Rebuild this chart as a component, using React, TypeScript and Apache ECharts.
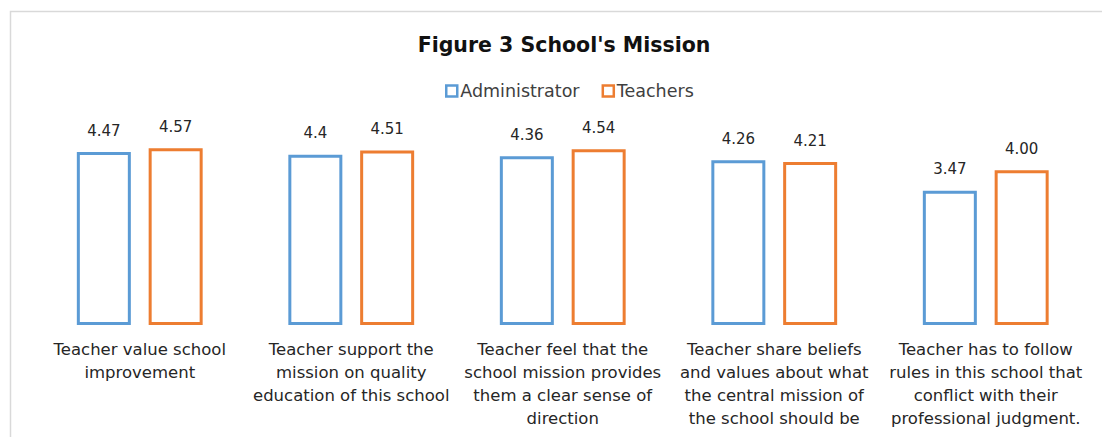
import React, { useEffect, useRef } from "react";
import * as echarts from "echarts";

const categories = [
  "Teacher value school\nimprovement",
  "Teacher support the\nmission on quality\neducation of this school",
  "Teacher feel that the\nschool mission provides\nthem a clear sense of\ndirection",
  "Teacher share beliefs\nand values about what\nthe central mission of\nthe school should be",
  "Teacher has to follow\nrules in this school that\nconflict with their\nprofessional judgment.",
];
const administrator = [4.47, 4.4, 4.36, 4.26, 3.47];
const administratorLabels = ["4.47", "4.4", "4.36", "4.26", "3.47"];
const teachers = [4.57, 4.51, 4.54, 4.21, 4.0];
const teachersLabels = ["4.57", "4.51", "4.54", "4.21", "4.00"];

const FONT = "'DejaVu Sans', sans-serif";

export default function App() {
  const ref = useRef<HTMLDivElement>(null);
  useEffect(() => {
    if (!ref.current) return;
    const chart = echarts.init(ref.current, undefined, { renderer: "svg" });
    chart.setOption({
      animation: false,
      backgroundColor: "#ffffff",
      textStyle: { fontFamily: FONT },
      graphic: [
        {
          type: "rect",
          shape: { x: 10.5, y: 11.5, width: 1200, height: 600 },
          style: { fill: "none", stroke: "#d9d9d9", lineWidth: 1.5 },
          silent: true,
          z: -1,
        },
      ],
      title: {
        text: "Figure 3 School's Mission",
        left: 559,
        textAlign: "center",
        top: 29,
        textStyle: { fontSize: 20.5, fontWeight: "bold", color: "#111111", fontFamily: FONT },
      },
      legend: {
        top: 77,
        left: 440,
        itemWidth: 11,
        itemHeight: 11,
        itemGap: 22,
        icon: "rect",
        textStyle: { fontSize: 17.5, color: "#404040", fontFamily: FONT, padding: [0, 0, 0, -2] },
        data: [
          { name: "Administrator", itemStyle: { color: "#ffffff", borderColor: "#5B9BD5", borderWidth: 2.5 } },
          { name: "Teachers", itemStyle: { color: "#ffffff", borderColor: "#ED7D31", borderWidth: 2.5 } },
        ],
      },
      grid: { left: 34, right: 10.5, top: 131.5, bottom: 112, containLabel: false },
      xAxis: {
        type: "category",
        data: categories,
        axisLine: { show: false },
        axisTick: { show: false },
        axisLabel: {
          interval: 0,
          margin: 13,
          fontSize: 16.5,
          lineHeight: 23,
          color: "#262626",
          fontFamily: FONT,
        },
      },
      yAxis: {
        type: "value",
        min: 0,
        max: 5,
        show: false,
        splitLine: { show: false },
      },
      series: [
        {
          name: "Administrator",
          type: "bar",
          data: administrator,
          barWidth: 54,
          barGap: "33%",
          itemStyle: { color: "#ffffff", borderColor: "#5B9BD5", borderWidth: 3 },
          label: {
            show: true,
            position: "top",
            distance: 14,
            fontSize: 15,
            color: "#262626",
            fontFamily: FONT,
            formatter: (p: any) => administratorLabels[p.dataIndex],
          },
        },
        {
          name: "Teachers",
          type: "bar",
          data: teachers,
          barWidth: 54,
          itemStyle: { color: "#ffffff", borderColor: "#ED7D31", borderWidth: 3 },
          label: {
            show: true,
            position: "top",
            distance: 14,
            fontSize: 15,
            color: "#262626",
            fontFamily: FONT,
            formatter: (p: any) => teachersLabels[p.dataIndex],
          },
        },
      ],
    });
    return () => chart.dispose();
  }, []);
  return (
    <div
      ref={ref}
      style={{ position: "fixed", left: 0, top: 0, width: 1102, height: 437 }}
    />
  );
}
